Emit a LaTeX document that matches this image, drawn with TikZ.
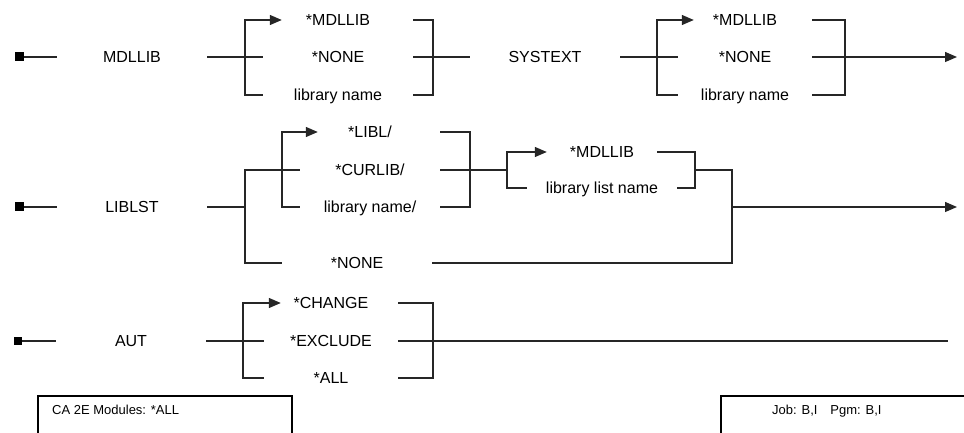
\documentclass[tikz,border=0pt]{standalone}
\usepackage{fontspec}
\setmainfont{Liberation Sans}
\usepackage{tikz}
\usetikzlibrary{arrows.meta,positioning,calc}
\definecolor{railc}{HTML}{262626}
\definecolor{footc}{HTML}{000000}
\tikzset{
  >={Triangle[length=12bp,width=10bp]},
  rail/.style={draw=railc,line width=1.3bp},
  railarr/.style={rail,->},
  kw/.style={font=\fontsize{16bp}{18bp}\selectfont,text height=11.5bp,text depth=0pt,inner sep=0pt,minimum width=150bp,text=black},
  opt/.style={kw,minimum width=#1},
  startsq/.style={fill=footc,minimum size=9bp,inner sep=0pt},
  footbox/.style={draw=footc,line width=2bp},
  foot/.style={font=\fontsize{13bp}{15bp}\selectfont,anchor=west,inner sep=0pt,text height=9.5bp,text depth=0pt},
}

\begin{document}
\begin{tikzpicture}[x=1bp,y=-1bp]
  \useasboundingbox (0,0) rectangle (964,433);
  % MDLLIB / SYSTEXT
  \node[startsq] (s1) at (19.5,57) {};
  \node[kw] (k1) at (132,57) {MDLLIB};
  \node[opt=150bp] (o11) at (338,20) {*MDLLIB};
  \node[opt=150bp] (o12) at (338,57) {*NONE};
  \node[opt=150bp] (o13) at (338,95) {library name};
  \node[kw] (k2) at (545,57) {SYSTEXT};
  \node[opt=134bp] (o14) at (745,20) {*MDLLIB};
  \node[opt=134bp] (o15) at (745,57) {*NONE};
  \node[opt=134bp] (o16) at (745,95) {library name};
  \coordinate (f1) at (245,57); \coordinate (j1) at (433,57);
  \coordinate (f2) at (657,57); \coordinate (j2) at (845,57);
  \coordinate (e1) at (957,57);
  \draw[rail] (s1) -- (k1);
  \draw[rail] (k1) -- (o12);
  \draw[railarr] (o13.west) -| (f1) |- ([xshift=19bp]o11.west);
  \draw[rail] (o11.east) -| (j1) |- (o13.east);
  \draw[rail] (o12) -- (k2);
  \draw[rail] (k2) -- (o15);
  \draw[railarr] (o16.west) -| (f2) |- ([xshift=16bp]o14.west);
  \draw[rail] (o14.east) -| (j2) |- (o16.east);
  \draw[railarr] (o15.east) -- (e1);
  % LIBLST
  \node[startsq] (s2) at (19.5,207) {};
  \node[kw] (k3) at (132,207) {LIBLST};
  \node[opt=140bp] (o21) at (370,132) {*LIBL/};
  \node[opt=140bp] (o22) at (370,170) {*CURLIB/};
  \node[opt=140bp] (o23) at (370,207) {library name/};
  \node[opt=150bp] (o24) at (357,263) {*NONE};
  \node[opt=110bp] (o25) at (602,152) {*MDLLIB};
  \node[opt=150bp] (o26) at (602,188) {library list name};
  \coordinate (f3) at (245,207); \coordinate (fA) at (282,170);
  \coordinate (jA) at (470,170); \coordinate (fB) at (507,170);
  \coordinate (jB) at (695,170); \coordinate (jC) at (732,207);
  \coordinate (e2) at (957,207);
  \draw[rail] (s2) -- (k3);
  \draw[rail] (k3.east) -- (f3);
  \draw[rail] (o24.west) -| (f3) |- (o22.west);
  \draw[railarr] (o23.west) -| (fA) |- ([xshift=18bp]o21.west);
  \draw[rail] (o21.east) -| (jA) |- (o23.east);
  \draw[rail] (o22.east) -- (fB);
  \draw[railarr] (o26.west) -| (fB) |- (o25.west);
  \draw[rail] (o25.east) -| (jB) |- (o26.east);
  \draw[rail] (jB) -| (jC) |- (o24.east);
  \draw[railarr] (jC) -- (e2);
  % AUT
  \node[startsq,minimum size=8bp] (s3) at (17.5,341) {};
  \node[kw] (k4) at (131,341) {AUT};
  \node[opt=134bp] (o31) at (331,303) {*CHANGE};
  \node[opt=134bp] (o32) at (331,341) {*EXCLUDE};
  \node[opt=134bp] (o33) at (331,378) {*ALL};
  \coordinate (f4) at (243,341); \coordinate (j4) at (433,341);
  \coordinate (e3) at (948,341);
  \draw[rail] (s3) -- (k4);
  \draw[rail] (k4) -- (o32);
  \draw[railarr] (o33.west) -| (f4) |- ([xshift=17bp]o31.west);
  \draw[rail] (o31.east) -| (j4) |- (o33.east);
  \draw[rail] (o32.east) -- (e3);
  % footer
  \draw[footbox] (38,436) |- (292,396) -- (292,436);
  \draw[footbox] (721,436) |- (966,396);
  \node[foot] (m1) at (52,410) {CA 2E Modules: *ALL};
  \node[foot] (m2) at (772,410) {Job: B,I\quad Pgm: B,I};
\end{tikzpicture}
\end{document}
